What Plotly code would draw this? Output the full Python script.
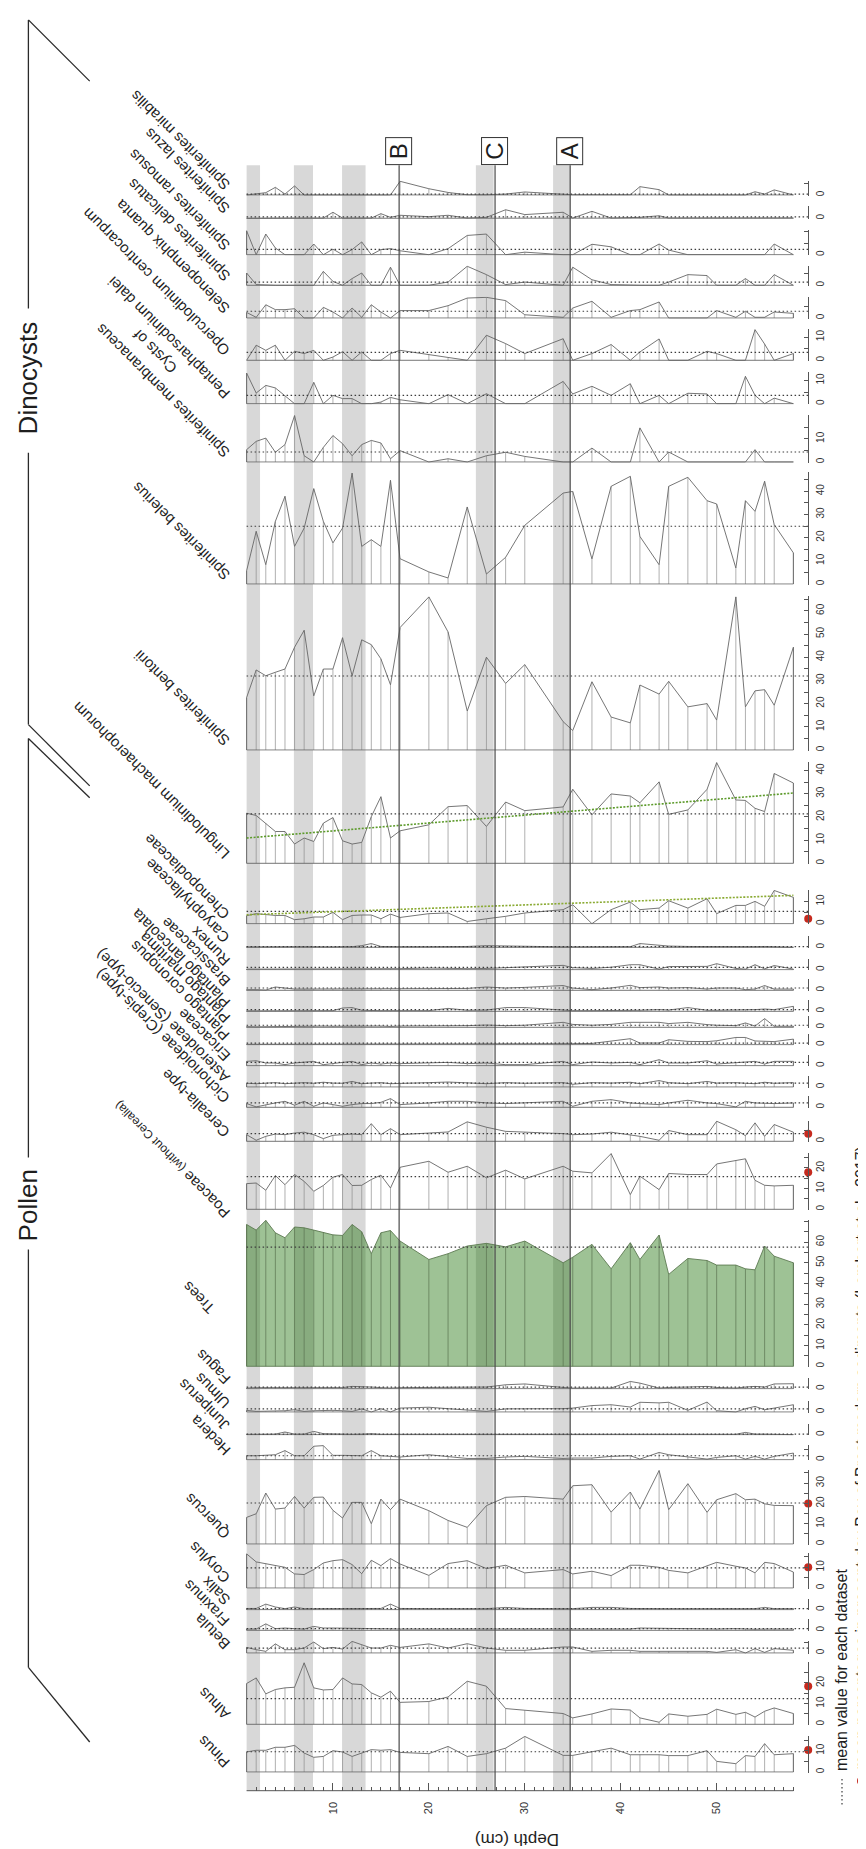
import numpy as np
import plotly.graph_objects as go

W, H = 866, 1849

# ------------------------------------------------------------------ data
DEPTHS = [1, 2, 3, 4, 5, 6, 7, 8, 9, 10, 11, 12, 13, 14, 15, 16, 17,
          20, 22, 24, 26, 28, 30,
          34, 35, 37, 39, 41, 42, 44, 45, 47, 49, 50, 52, 53, 54, 55, 56, 58]

# dinocysts (%)
S_MIRABILIS = [0, 0.4, 1.0, 3.3, 0.4, 3.9, 0, 0, 0, 0, 0, 0, 0, 0, 0, 0, 5.9,
               2.7, 1.1, 0.1, 0.1, 0.4, 1.3,
               0.1, 0.1, 0.1, 0.1, 0.1, 3.6, 2.3, 0, 0, 0, 0, 0, 0, 1.4, 0.4, 2.2, 0.1]
S_LAZUS = [0, 0.1, 0.1, 0.1, 0.1, 0.1, 0.1, 0.1, 0.1, 2.6, 0.1, 0.1, 0.1, 0.1, 2.0, 0.4, 1.3,
           0.7, 1.3, 0.1, 0.4, 3.7, 1.6,
           2.6, 0.1, 3.0, 0.1, 0.4, 0.4, 1.1, 0.1, 0.1, 0.1, 0.1, 0.1, 0.1, 0.1, 0.1, 0.1, 0.1]
S_RAMOSUS = [10.3, 0, 8.9, 2.9, 0, 0, 0, 4.6, 0, 2.4, 0, 2.2, 5.5, 0, 2.2, 2.6, 1.7,
             0, 2.6, 8.3, 8.9, 0, 1.1,
             0, 0, 4.5, 3.4, 0, 0, 4.6, 2.0, 0, 0, 0, 0, 0, 0, 0, 4.6, 0]
S_DELICATUS = [5.3, 0.3, 0, 0, 0, 0, 0, 0, 6.0, 1.7, 0, 2.9, 5.3, 0, 0, 7.8, 0,
               0, 1.4, 8.2, 4.6, 0.3, 1.4,
               0, 7.8, 2.4, 0.3, 0, 0, 0, 1.4, 4.6, 4.2, 0, 0, 2.9, 0, 0, 4.6, 0]
S_QUANTA = [2.4, 0.3, 5.7, 3.6, 3.6, 4.0, 0, 0, 4.6, 2.6, 0, 4.3, 0.3, 5.7, 2.6, 0, 3.2,
            3.2, 5.3, 8.6, 8.9, 7.5, 1.4,
            0.3, 4.3, 7.2, 0.3, 3.2, 3.6, 6.9, 0, 0, 0, 3.2, 0.3, 2.9, 0.3, 0.3, 2.6, 2.0]
S_OPERCULODINIUM = [0, 6.5, 4.3, 6.5, 0, 3.9, 2.9, 4.3, 0, 1.4, 3.7, 0, 3.6, 0, 0, 2.9, 4.3,
                    2.4, 1.0, 0, 10.8, 7.2, 2.9,
                    9.3, 0, 2.9, 6.8, 0, 3.6, 9.2, 0, 0, 3.9, 2.9, 0, 0, 13.2, 7.0, 0, 2.9]
S_PENTAPHARSODINIUM = [13.2, 4.6, 7.9, 6.8, 3.2, 0, 0, 9.2, 0, 3.6, 2.2, 2.2, 0, 0, 0.7, 2.7, 1.7,
                       0, 3.9, 0, 4.3, 0, 0,
                       9.6, 4.2, 7.5, 3.6, 8.6, 0, 3.6, 0, 4.5, 4.2, 0, 0, 11.8, 3.6, 0, 2.4, 0]
S_MEMBRANACEUS = [5.3, 8.9, 10.3, 4.2, 7.5, 20.0, 2.7, 0, 6.3, 11.4, 7.9, 2.7, 7.5, 9.3, 8.2, 1.4, 4.9,
                  0, 1.4, 0, 2.7, 4.2, 2.4,
                  0, 0, 6.0, 0, 0, 14.7, 0, 4.3, 0, 0, 0, 0, 0, 5.3, 0, 0, 0]
S_BELERIUS = [5.7, 22.7, 8.3, 27.0, 37.8, 16.2, 24.1, 41.1, 27.0, 17.7, 24.1, 47.8, 16.2, 19.1, 16.2, 44.7, 10.9,
              5.2, 2.6, 33.2, 4.3, 11.5, 25.3,
              39.2, 39.9, 10.8, 42.1, 46.4, 20.5, 8.3, 42.1, 46.0, 35.9, 34.5, 6.9, 35.9, 31.3, 44.3, 25.6, 13.4]
S_BENTORII = [22.6, 34.5, 32.0, 33.5, 34.9, 44.3, 51.6, 23.3, 34.9, 34.9, 48.4, 32.0, 47.5, 45.4, 39.3, 28.1, 52.8,
              66.0, 50.9, 16.8, 40.0, 28.7, 36.8,
              12.2, 8.4, 29.4, 14.2, 11.7, 28.0, 24.1, 29.6, 18.6, 20.0, 12.9, 66.0, 18.6, 25.5, 26.0, 19.3, 44.3]
S_LINGULODINIUM = [21.6, 20.6, 17.3, 13.7, 13.7, 8.3, 10.9, 9.4, 17.3, 19.7, 9.7, 8.3, 9.0, 20.1, 28.7, 10.9, 14.0,
                   16.6, 24.4, 24.9, 15.9, 26.4, 22.7,
                   24.3, 31.9, 20.9, 29.9, 29.0, 26.1, 35.1, 21.1, 23.0, 31.9, 43.4, 27.3, 27.1, 23.7, 22.3, 38.7, 34.6]

# pollen (%)
P_CHENOPODIACEAE = [3.6, 4.5, 4.0, 3.7, 3.7, 1.8, 2.2, 3.0, 3.0, 5.1, 1.8, 3.7, 3.9, 3.9, 2.2, 4.3, 2.8,
                    4.5, 4.8, 1.0, 2.2, 3.3, 4.8,
                    6.3, 8.5, 0, 6.3, 9.7, 6.3, 7.0, 10.3, 7.0, 11.2, 4.5, 8.2, 8.2, 10.0, 7.8, 14.9, 11.8]
P_CARYOPHYLLACEAE = [0.2, 0.2, 0.3, 0.3, 0.4, 0.3, 0.3, 0.2, 0.2, 0.2, 0.3, 0.3, 0.8, 1.8, 0.4, 0.2, 0.3,
                     0.3, 0.3, 0.4, 0.8, 0.6, 0.3,
                     0.2, 0.2, 0.2, 0.3, 0.3, 1.8, 1.0, 0.6, 0.4, 0.3, 0.3, 0.5, 0.3, 0.3, 0.4, 0.3, 0.2]
P_RUMEX = [0.3, 0.3, 0.3, 0.3, 0.3, 0.3, 0.3, 0.3, 0.3, 0.3, 0.3, 0.3, 0.3, 0.3, 0.3, 0.3, 0.5,
           0.8, 0.6, 0.5, 0.6, 1.0, 1.6,
           2.1, 1.0, 0.6, 1.2, 2.4, 2.4, 0.3, 1.5, 1.6, 1.6, 2.9, 0.6, 0.3, 2.4, 0.4, 2.0, 0.3]
P_BRASSICACEAE = [0.3, 0.3, 0.1, 1.6, 1.1, 0.6, 0.6, 0.6, 0.6, 0.6, 0.6, 0.6, 0.6, 0.6, 0.6, 0.6, 0.8,
                  0.8, 0.8, 0.9, 1.6, 1.1, 1.4,
                  2.3, 1.1, 0.3, 1.1, 2.4, 1.3, 1.6, 1.1, 1.3, 0.6, 1.1, 1.1, 0.3, 0.6, 2.3, 0.6, 0.6]
P_PLANTAGO_LANC = [0.2, 0.2, 0.2, 0.2, 0.2, 0.2, 0.2, 0.3, 0.3, 0.3, 1.6, 1.8, 0.5, 0.3, 0.3, 0.3, 0.3,
                   0.3, 1.4, 0.5, 0.6, 1.8, 1.8,
                   0.6, 0.3, 0.3, 0.3, 0.3, 0.5, 0.8, 0.6, 1.8, 0.5, 0.5, 0.5, 0.5, 0.8, 1.1, 0.8, 2.4]
P_PLANTAGO_MAR = [0.3, 0.2, 0.3, 0.4, 0.5, 0.5, 0.5, 0.6, 0.6, 0.5, 0.6, 0.6, 0.8, 0.6, 0.6, 0.4, 0.6,
                  0.6, 0.8, 0.8, 1.1, 0.8, 1.0,
                  2.4, 1.4, 1.0, 1.4, 2.4, 2.4, 2.4, 1.8, 2.4, 1.3, 1.0, 0.8, 2.1, 0.6, 4.2, 0.5, 0.5]
P_PLANTAGO_COR = [0.2, 0.2, 0.2, 0.2, 0.2, 0.2, 0.2, 0.3, 0.3, 0.3, 0.3, 0.3, 0.3, 0.3, 0.3, 0.3, 0.3,
                  0.3, 0.4, 0.4, 0.4, 0.4, 0.4,
                  0.5, 0.5, 0.6, 1.6, 2.9, 0.8, 0.8, 2.4, 1.6, 1.5, 1.9, 3.5, 3.5, 1.8, 1.6, 1.5, 2.7]
P_ERICACEAE = [2.1, 2.4, 1.3, 1.3, 0.5, 1.3, 1.8, 2.1, 0.5, 1.0, 1.3, 2.1, 0.5, 1.3, 0.8, 1.3, 1.0,
               1.3, 1.6, 1.0, 1.3, 0.5, 0.5,
               2.1, 0.5, 1.8, 1.3, 1.6, 0.5, 2.9, 1.3, 1.3, 2.4, 0.8, 1.3, 1.6, 2.1, 0.8, 2.1, 2.1]
P_ASTEROIDEAE = [1.8, 1.6, 1.9, 2.1, 1.6, 1.9, 2.1, 1.8, 2.3, 1.9, 1.8, 2.7, 1.6, 1.9, 2.1, 1.6, 1.8,
                 2.1, 2.4, 1.9, 1.6, 2.1, 1.8,
                 2.1, 1.3, 2.1, 1.9, 2.3, 1.6, 3.1, 2.1, 1.6, 2.7, 1.9, 2.1, 1.8, 1.6, 2.3, 1.8, 2.1]
P_CICHORIOIDEAE = [1.8, 0.2, 1.3, 2.1, 2.9, 1.0, 2.9, 0.5, 2.1, 1.3, 0.5, 1.3, 1.8, 1.8, 2.4, 4.2, 1.3,
                   2.1, 2.9, 2.9, 2.1, 1.8, 2.1,
                   2.9, 0.5, 2.9, 3.7, 2.1, 1.8, 1.3, 2.1, 3.4, 2.1, 1.8, 0.2, 2.9, 2.1, 1.8, 1.8, 2.1]
P_CEREALIA = [3.2, 0.5, 2.4, 3.5, 3.2, 4.0, 4.4, 3.2, 1.3, 2.9, 3.2, 3.5, 3.2, 8.5, 3.2, 6.1, 3.2,
              4.0, 4.5, 9.4, 6.8, 4.8, 4.5,
              3.7, 3.2, 3.5, 4.4, 3.2, 2.4, 0.5, 5.2, 3.2, 3.2, 9.7, 5.6, 2.7, 8.9, 2.4, 8.1, 4.4]
P_POACEAE = [12.4, 12.7, 9.2, 16.3, 11.9, 16.8, 13.5, 8.7, 11.5, 15.5, 16.8, 11.5, 11.6, 14.4, 16.5, 10.3, 20.3,
             23.2, 17.9, 20.8, 15.2, 18.9, 14.7,
             20.8, 18.4, 17.6, 26.9, 7.1, 16.0, 9.5, 17.3, 16.8, 16.8, 21.9, 23.7, 24.4, 14.0, 11.6, 11.3, 11.6]
P_TREES = [68.5, 65.8, 70.5, 64.5, 62.1, 67.3, 66.9, 65.8, 64.8, 63.5, 63.2, 68.5, 65.0, 54.4, 64.5, 65.6, 60.5,
           51.6, 54.4, 58.1, 59.4, 57.7, 60.5,
           50.0, 52.7, 58.9, 47.1, 59.7, 51.6, 63.4, 44.4, 52.1, 51.1, 48.9, 48.9, 47.1, 46.6, 58.1, 53.2, 50.0]
P_FAGUS = [0.3, 0.5, 0.5, 0.5, 0.3, 0.5, 0.5, 0.3, 0.3, 0.5, 0.5, 1.1, 1.1, 0.8, 0.5, 0.3, 0.5,
           0.5, 0.5, 0.8, 0.8, 1.9, 2.3,
           0.6, 0.3, 0.3, 0.3, 3.5, 2.7, 0.3, 0.6, 0.8, 1.1, 0.6, 0.3, 0.8, 1.1, 0.8, 2.3, 2.4]
P_ULMUS = [0.8, 0.3, 0.3, 0.6, 0.6, 1.1, 0.3, 0.6, 0.8, 0.8, 0.6, 0.3, 1.5, 0.0, 1.6, 0.0, 1.9,
           2.3, 1.6, 1.1, 0.3, 1.5, 1.5,
           1.6, 1.9, 3.1, 3.5, 2.4, 4.7, 4.4, 4.7, 0.8, 4.8, 0.6, 0.0, 1.6, 2.7, 1.1, 1.9, 3.5]
P_JUNIPERUS = [0.2, 0.2, 0.3, 0.3, 1.3, 0.3, 0.3, 1.6, 0.5, 0.3, 0.2, 0.2, 0.3, 0.5, 0.2, 0.2, 0.2,
               0.2, 0.2, 0.2, 0.3, 0.2, 0.2,
               0.2, 0.2, 0.5, 0.2, 0.2, 0.2, 0.2, 0.2, 0.2, 0.2, 0.2, 0.2, 1.1, 0.3, 0.3, 0.2, 0.2]
P_HEDERA = [1.9, 1.9, 2.1, 2.4, 4.4, 1.9, 1.9, 6.5, 6.8, 2.1, 2.1, 1.9, 1.9, 4.4, 1.9, 1.6, 1.3,
            2.4, 1.6, 0.6, 0.6, 1.3, 1.6,
            0.6, 0.8, 0.8, 1.6, 1.9, 0.3, 3.5, 2.4, 1.3, 0.3, 1.1, 1.9, 0.3, 1.6, 0.3, 1.6, 3.2]
P_QUERCUS = [13.1, 14.9, 25.1, 17.2, 17.7, 23.4, 17.7, 23.0, 23.1, 16.6, 12.8, 20.5, 20.5, 10.0, 22.1, 16.9, 22.1,
             16.4, 11.6, 8.2, 18.9, 23.0, 23.4,
             22.1, 28.7, 29.2, 15.7, 25.6, 17.2, 36.2, 16.9, 29.7, 15.6, 21.8, 24.8, 21.8, 22.1, 19.8, 19.0, 18.9]
P_CORYLUS = [16.5, 12.6, 11.8, 11.0, 10.0, 6.8, 6.5, 8.9, 12.1, 13.2, 13.7, 11.3, 6.9, 13.4, 10.8, 14.2, 11.6,
             6.1, 11.8, 13.2, 9.4, 11.0, 7.3,
             8.9, 6.8, 8.1, 6.0, 11.0, 11.0, 10.0, 8.5, 7.3, 10.8, 12.4, 10.5, 9.7, 7.3, 12.4, 11.8, 7.7]
P_SALIX = [0.6, 0.6, 2.7, 1.3, 0.5, 1.3, 0.5, 0.5, 0.5, 0.5, 0.5, 0.6, 0.6, 0.5, 0.6, 2.7, 0.6,
           0.5, 0.5, 0.5, 0.5, 1.1, 0.6,
           0.5, 0.5, 1.1, 1.1, 0.6, 0.5, 0.5, 0.5, 0.5, 0.5, 0.5, 0.5, 0.5, 0.5, 1.1, 0.5, 0.5]
P_FRAXINUS = [0.6, 0.6, 3.1, 0.8, 1.1, 0.8, 0.6, 1.9, 1.1, 1.1, 1.0, 1.1, 1.1, 1.0, 0.8, 0.8, 0.6,
              0.6, 0.6, 0.6, 0.6, 0.6, 0.6,
              0.6, 0.5, 0.6, 0.6, 0.6, 1.1, 1.0, 0.6, 0.6, 0.5, 0.6, 0.8, 0.6, 0.5, 0.6, 0.6, 0.6]
P_BETULA = [2.7, 1.6, 0.8, 4.4, 1.6, 1.6, 2.4, 5.3, 2.1, 2.7, 1.9, 5.6, 4.0, 2.4, 2.4, 3.7, 2.7,
            4.4, 2.4, 4.5, 2.4, 1.3, 1.3,
            2.9, 2.9, 0.8, 1.3, 1.3, 0.8, 0.8, 0.8, 0.8, 0.8, 0.3, 1.6, 0.0, 2.1, 0.3, 2.1, 1.3]
P_ALNUS = [19.7, 22.4, 14.7, 16.8, 17.6, 17.9, 29.7, 17.6, 16.6, 16.8, 22.4, 19.5, 19.2, 15.2, 13.1, 16.0, 10.6,
           11.0, 13.2, 20.8, 18.4, 7.6, 6.8,
           5.2, 3.1, 5.0, 7.4, 6.9, 3.1, 1.0, 5.0, 3.9, 4.8, 7.3, 4.8, 5.8, 3.5, 6.3, 7.9, 5.2]
P_PINUS = [9.4, 10.2, 10.2, 11.6, 11.6, 12.5, 8.9, 6.9, 7.3, 10.0, 9.4, 7.3, 8.9, 10.5, 10.2, 10.5, 9.2,
           8.6, 12.0, 7.3, 8.6, 11.2, 16.7,
           7.8, 7.8, 9.4, 11.2, 8.1, 8.1, 8.1, 7.7, 7.7, 10.0, 5.0, 3.9, 7.7, 7.3, 13.3, 8.1, 8.6]

TAXA = ["Spiniferites mirabilis", "Spiniferites lazus", "Spiniferites ramosus",
        "Spiniferites delicatus", "Selenopemphix quanta", "Operculodinium centrocarpum",
        "Cysts of<br>Pentapharsodinium dalei", "Spiniferites membranaceus", "Spiniferites belerius",
        "Spiniferites bentorii", "Lingulodinium machaerophorum",
        "Chenopodiaceae", "Caryophyllaceae", "Rumex", "Brassicaceae", "Plantago lanceolata",
        "Plantago maritima", "Plantago coronopus", "Ericaceae", "Asteroideae (Senecio-type)",
        "Cichorioideae (Crepis-type)", "Cerealia-type",
        "Poaceae <span style='font-size:12px'>(without Cerealia)</span>", "Trees",
        "Fagus", "Ulmus", "Juniperus", "Hedera", "Quercus", "Corylus", "Salix", "Fraxinus",
        "Betula", "Alnus", "Pinus"]

SERIES = [S_MIRABILIS, S_LAZUS, S_RAMOSUS, S_DELICATUS, S_QUANTA, S_OPERCULODINIUM,
          S_PENTAPHARSODINIUM, S_MEMBRANACEUS, S_BELERIUS, S_BENTORII, S_LINGULODINIUM,
          P_CHENOPODIACEAE, P_CARYOPHYLLACEAE, P_RUMEX, P_BRASSICACEAE, P_PLANTAGO_LANC,
          P_PLANTAGO_MAR, P_PLANTAGO_COR, P_ERICACEAE, P_ASTEROIDEAE, P_CICHORIOIDEAE,
          P_CEREALIA, P_POACEAE, P_TREES, P_FAGUS, P_ULMUS, P_JUNIPERUS, P_HEDERA,
          P_QUERCUS, P_CORYLUS, P_SALIX, P_FRAXINUS, P_BETULA, P_ALNUS, P_PINUS]

# mean value for each dataset (dotted lines)
MEANS = [0.4, 0.6, 2.3, 1.4, 2.9, 3.4, 3.6, 4.3, 24.9, 31.9, 21.3,
         5.5, 0.3, 1.1, 1.1, 0.8, 1.0, 0.8, 1.6, 1.9, 2.1, 3.7, 15.8, 57.6,
         0.8, 1.5, 0.3, 1.9, 20.2, 9.7, 0.5, 0.8, 2.4, 12.4, 9.5]

# mean percentages in present-day Bay of Brest modern sediments
MODERN_TAXA = ["Chenopodiaceae", "Cerealia-type", "Poaceae", "Quercus", "Corylus", "Alnus", "Pinus"]
MODERN_VALUES = [2.2, 3.7, 17.9, 20.0, 10.0, 18.4, 10.3]
MODERN_INDEX = [11, 21, 22, 28, 29, 33, 34]

# linear trends (value at first and last depth)
TREND_INDEX = [10, 11]          # Lingulodinium, Chenopodiaceae
TREND_START = [10.9, 4.0]
TREND_END = [30.3, 12.7]
TREND_COLORS = ["#5c9a2a", "#8aaa32"]

BAND_START = [1.0, 5.93, 10.95, 24.9, 32.95]
BAND_END = [2.4, 7.92, 13.4, 26.75, 34.73]
ZONE_NAMES = ["B", "C", "A"]
ZONE_DEPTHS = [16.9, 26.9, 34.73]

DEPTH_TICKS = [10, 20, 30, 40, 50]

# ------------------------------------------------------------------ layout (pixels)
BASE_PX = [187.0, 210.3, 246.7, 277.3, 310.0, 352.3, 395.7, 454.0, 576.0, 742.0, 855.3,
           915.7, 939.3, 961.7, 982.3, 1003.3, 1019.3, 1036.7, 1057.7, 1079.0, 1099.3,
           1133.3, 1201.3, 1358.3, 1380.7, 1404.0, 1426.7, 1451.7, 1536.0, 1580.0,
           1601.7, 1622.3, 1645.0, 1716.3, 1764.0]
SCALE = [2.32] * 11 + [2.23] + [2.07] * 17 + [2.07] * 5 + [2.13]
SCALE[28] = 2.03

X0_PX = 238.6
PX_PER_CM = 9.593
XEND_PX = 800.2
AXIS_Y_PX = 1782.7
TOP_PX = 157.3
D_LAST = 58
X_LEFT = 0.94
AXIS_D = 1 + (XEND_PX - X0_PX) / PX_PER_CM

FONT = "Liberation Sans, Arial, Helvetica, sans-serif"
LINE_C = "#666666"
BAR_C = "#8e8e8e"
MEAN_C = "#3c3c3c"
AX_C = "#555555"
RED = "#c62a1e"


def py(p):
    return 1 - p / H


def pxx(p):
    return p / W


fig = go.Figure()
layout = {}
annotations = []
shapes = []

for k, (name, vals) in enumerate(zip(TAXA, SERIES)):
    n = k + 1
    yref = "y" if n == 1 else f"y{n}"
    ykey = "yaxis" if n == 1 else f"yaxis{n}"
    top = max(5.0, max(vals))
    sc = SCALE[k]
    base = BASE_PX[k]
    pad = 0.7 / sc
    dom = [py(base + pad * sc), py(base - (top + pad) * sc)]
    is_trees = name == "Trees"

    tv = list(np.arange(0, top + 1e-9, 5.0))
    tt = [str(int(v)) if (int(round(v)) % 10 == 0 and (v == 0 or v <= top - 2.5)) else "" for v in tv]
    layout[ykey] = dict(domain=dom, range=[-pad, top + pad], anchor="free",
                        position=pxx(XEND_PX), side="right", showline=True,
                        linecolor=AX_C, linewidth=1, ticks="inside", ticklen=4,
                        tickcolor=AX_C, tickwidth=1, tickmode="array", tickvals=tv,
                        ticktext=tt, tickangle=-90, ticklabelstandoff=3,
                        tickfont=dict(size=10, color="#333333", family=FONT),
                        showgrid=False, zeroline=False, fixedrange=True)

    # outline polygon
    ox = [DEPTHS[0]] + DEPTHS + [DEPTHS[-1], DEPTHS[0]]
    oy = [0] + vals + [0, 0]
    if is_trees:
        fig.add_trace(go.Scatter(x=ox, y=oy, mode="lines", fill="toself",
                                 fillcolor="rgba(40,120,20,0.45)",
                                 line=dict(color="#5d7a52", width=0.9),
                                 xaxis="x", yaxis=yref, hoverinfo="skip", showlegend=False))
    # sample bars
    bx, by = [], []
    for d, v in zip(DEPTHS, vals):
        bx += [d, d, None]
        by += [0, v, None]
    fig.add_trace(go.Scatter(x=bx, y=by, mode="lines",
                             line=dict(color="#5a7350" if is_trees else BAR_C, width=0.7),
                             xaxis="x", yaxis=yref, hoverinfo="skip", showlegend=False))
    if not is_trees:
        fig.add_trace(go.Scatter(x=ox, y=oy, mode="lines",
                                 line=dict(color=LINE_C, width=0.9),
                                 xaxis="x", yaxis=yref, hoverinfo="skip", showlegend=False))
    # mean line
    fig.add_trace(go.Scatter(x=[DEPTHS[0], AXIS_D], y=[MEANS[k], MEANS[k]], mode="lines",
                             line=dict(color=MEAN_C, width=1.2, dash="1.5px,2.5px"),
                             xaxis="x", yaxis=yref, hoverinfo="skip", showlegend=False))
    # linear trend
    if k in TREND_INDEX:
        j = TREND_INDEX.index(k)
        fig.add_trace(go.Scatter(x=[DEPTHS[0], D_LAST], y=[TREND_START[j], TREND_END[j]],
                                 mode="lines", line=dict(color=TREND_COLORS[j], width=1.6, dash="2px,1.5px"),
                                 xaxis="x", yaxis=yref, hoverinfo="skip", showlegend=False))
    # modern sediment mean
    if k in MODERN_INDEX:
        v = MODERN_VALUES[MODERN_INDEX.index(k)]
        fig.add_trace(go.Scatter(x=[AXIS_D], y=[v], mode="markers", cliponaxis=False,
                                 marker=dict(color=RED, size=8, line=dict(width=0)),
                                 xaxis="x", yaxis=yref, hoverinfo="skip", showlegend=False))

    # taxon label
    right = 228
    bottom = base + 2
    if name.startswith("Cysts"):
        bottom = base + 15
    if is_trees:
        right, bottom = 213, 1312
    if name.startswith("Poaceae"):
        bottom = 1216
    annotations.append(dict(text=name, x=pxx(right), y=py(bottom), xref="paper", yref="paper",
                            xanchor="right", yanchor="bottom", textangle=-135, showarrow=False,
                            font=dict(size=15, color="#1e1e1e", family=FONT)))

# grey bands
for s, e in zip(BAND_START, BAND_END):
    shapes.append(dict(type="rect", xref="x", yref="paper", x0=s, x1=e,
                       y0=py(AXIS_Y_PX), y1=py(TOP_PX), fillcolor="#d8d8d8",
                       line=dict(width=0), layer="below"))
# zone lines and boxes
for zn, zd in zip(ZONE_NAMES, ZONE_DEPTHS):
    shapes.append(dict(type="line", xref="x", yref="paper", x0=zd, x1=zd,
                       y0=py(AXIS_Y_PX), y1=py(TOP_PX), line=dict(color="#4a4a4a", width=1.2)))
    annotations.append(dict(text=zn, x=zd, xref="x", y=py(143), yref="paper",
                            xanchor="center", yanchor="middle", textangle=-90, showarrow=False,
                            width=26, height=25, borderpad=0, bordercolor="#333333",
                            borderwidth=1, bgcolor="white",
                            font=dict(size=24, color="#1e1e1e", family=FONT)))

# depth axis line
shapes.append(dict(type="line", xref="x", yref="paper", x0=DEPTHS[0], x1=D_LAST,
                   y0=py(AXIS_Y_PX), y1=py(AXIS_Y_PX), line=dict(color=AX_C, width=1)))

# group brackets
BRACKETS = [((20.4, 11.9), (81.7, 73.1)), ((20.4, 11.9), (20.4, 300.5)),
            ((20.4, 444.8), (20.4, 716.6)), ((20.4, 716.6), (81.7, 777.9)),
            ((20.4, 730.5), (81.7, 789.8)), ((20.4, 730.5), (20.4, 1149.6)),
            ((20.4, 1241.4), (20.4, 1659.4)), ((20.4, 1659.4), (81.7, 1734.0))]
for (xa, ya), (xb, yb) in BRACKETS:
    shapes.append(dict(type="line", xref="paper", yref="paper", x0=pxx(xa), y0=py(ya),
                       x1=pxx(xb), y1=py(yb), line=dict(color="#2a2a2a", width=1.3)))
for txt, yc in [("Dinocysts", 370), ("Pollen", 1197)]:
    annotations.append(dict(text=txt, x=pxx(20.4), y=py(yc), xref="paper", yref="paper",
                            xanchor="center", yanchor="middle", textangle=-90, showarrow=False,
                            font=dict(size=26, color="#1e1e1e", family=FONT)))

# depth title
annotations.append(dict(text="Depth (cm)", x=pxx(509), y=py(1832), xref="paper", yref="paper",
                        xanchor="center", yanchor="middle", textangle=180, showarrow=False,
                        font=dict(size=17, color="#1e1e1e", family=FONT)))

# legend
shapes.append(dict(type="line", xref="paper", yref="paper", x0=pxx(834), x1=pxx(834),
                   y0=py(1771), y1=py(1797), line=dict(color=MEAN_C, width=1.2, dash="1.5px,2.5px")))
shapes.append(dict(type="circle", xref="paper", yref="paper", x0=pxx(849), x1=pxx(857),
                   y0=py(1777), y1=py(1769), fillcolor=RED, line=dict(width=0)))
annotations.append(dict(text="mean value for each dataset", x=pxx(833), y=py(1765),
                        xref="paper", yref="paper", xanchor="center", yanchor="bottom",
                        textangle=-90, showarrow=False,
                        font=dict(size=16, color="#1e1e1e", family=FONT)))
annotations.append(dict(text="mean percentages in present-day Bay of Brest modern sediments (Lambert et al., 2017)",
                        x=pxx(853), y=py(1764), xref="paper", yref="paper", xanchor="center",
                        yanchor="bottom", textangle=-90, showarrow=False,
                        font=dict(size=16, color="#1e1e1e", family=FONT)))

layout["xaxis"] = dict(domain=[pxx(X0_PX - (1 - X_LEFT) * PX_PER_CM), pxx(XEND_PX)],
                       range=[X_LEFT, AXIS_D], anchor="free", position=py(AXIS_Y_PX),
                       showline=False, showgrid=False, zeroline=False, tickmode="array",
                       tickvals=DEPTH_TICKS, ticks="inside", ticklen=8, tickcolor=AX_C,
                       tickwidth=1, tickangle=-90, ticklabelstandoff=8,
                       tickfont=dict(size=11, color="#333333", family=FONT),
                       minor=dict(tickmode="array", tickvals=list(range(1, D_LAST + 1)),
                                  ticks="inside", ticklen=4, tickcolor=AX_C, tickwidth=1,
                                  showgrid=False),
                       fixedrange=True)

fig.update_layout(width=W, height=H, margin=dict(l=0, r=0, t=0, b=0), autosize=False,
                  paper_bgcolor="white", plot_bgcolor="rgba(0,0,0,0)", showlegend=False,
                  font=dict(family=FONT), annotations=annotations, shapes=shapes, **layout)

fig.write_html("out.html")
